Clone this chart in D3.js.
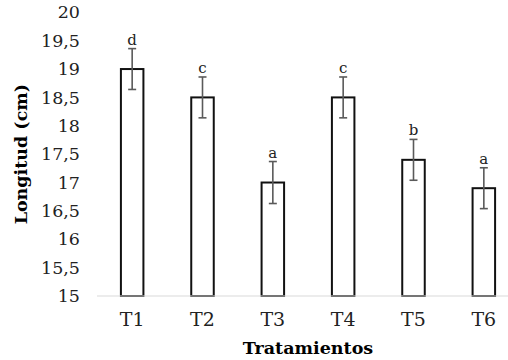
<!DOCTYPE html>
<html>
<head>
<meta charset="utf-8">
<script src="https://cdn.jsdelivr.net/npm/d3@7"></script>
<style>
  html, body { margin: 0; padding: 0; background: #fff; }
  svg { display: block; }
  .tick-label { font-family: "DejaVu Serif", serif; font-size: 17.5px; fill: #222; }
  .cat-label { font-family: "DejaVu Serif", serif; font-size: 19px; fill: #222; }
  .axis-title { font-family: "DejaVu Serif", serif; font-size: 17.5px; font-weight: bold; fill: #000; }
  .letter { font-family: "DejaVu Serif", serif; font-size: 15px; fill: #222; }
</style>
</head>
<body>
<div id="chart"></div>
<script>
// Longitud por tratamiento, con barras de error y letras de significancia.
const categories = ["T1", "T2", "T3", "T4", "T5", "T6"];
const means = [19.0, 18.5, 17.0, 18.5, 17.4, 16.9];
const errors = [0.36, 0.36, 0.37, 0.36, 0.36, 0.36];
const letters = ["d", "c", "a", "c", "b", "a"];
const yTicks = [15, 15.5, 16, 16.5, 17, 17.5, 18, 18.5, 19, 19.5, 20];

const width = 508, height = 360;

const svg = d3.select("#chart").append("svg")
  .attr("width", width).attr("height", height);

// Plot region; the right side runs past the frame, like the reference crop.
const x = d3.scaleBand(categories, [97, 519]).paddingInner(0.68).paddingOuter(0.34);
const y = d3.scaleLinear([15, 20], [296, 12.3]);
const fmt = (d) => String(d).replace(".", ",");

// Y tick labels (no axis line, no tick marks)
svg.append("g").selectAll("text")
  .data(yTicks).join("text")
  .attr("class", "tick-label")
  .attr("x", 80).attr("y", (d) => y(d)).attr("dy", "0.35em")
  .attr("text-anchor", "end")
  .text(fmt);

// Bars
svg.append("g").selectAll("rect")
  .data(categories).join("rect")
  .attr("x", (c) => x(c))
  .attr("y", (c, i) => y(means[i]))
  .attr("width", x.bandwidth())
  .attr("height", (c, i) => y(15) - y(means[i]))
  .attr("fill", "#fff").attr("stroke", "#111").attr("stroke-width", 2);

// Baseline
svg.append("line")
  .attr("x1", 97).attr("x2", width).attr("y1", y(15)).attr("y2", y(15))
  .attr("stroke", "#d9d9d9").attr("stroke-width", 1.2);

// Error bars
const eb = svg.append("g").attr("stroke", "#5a5a5a").attr("stroke-width", 1.6);
categories.forEach((c, i) => {
  const cx = x(c) + x.bandwidth() / 2;
  const top = y(means[i] + errors[i]), bot = y(means[i] - errors[i]);
  eb.append("line").attr("x1", cx).attr("x2", cx).attr("y1", top).attr("y2", bot);
  eb.append("line").attr("x1", cx - 4).attr("x2", cx + 4).attr("y1", top).attr("y2", top);
  eb.append("line").attr("x1", cx - 4).attr("x2", cx + 4).attr("y1", bot).attr("y2", bot);
});

// Significance letters
svg.append("g").selectAll("text")
  .data(categories).join("text")
  .attr("class", "letter")
  .attr("x", (c) => x(c) + x.bandwidth() / 2)
  .attr("y", (c, i) => y(means[i] + errors[i]) - 4)
  .attr("text-anchor", "middle")
  .text((c, i) => letters[i]);

// X tick labels
svg.append("g").selectAll("text")
  .data(categories).join("text")
  .attr("class", "cat-label")
  .attr("x", (c) => x(c) + x.bandwidth() / 2)
  .attr("y", 319).attr("dy", "0.35em")
  .attr("text-anchor", "middle")
  .text((c) => c);

// Axis titles
svg.append("text").attr("class", "axis-title")
  .attr("text-anchor", "middle")
  .attr("transform", `translate(21,${(y(15) + y(20)) / 2}) rotate(-90)`)
  .attr("dy", "0.35em")
  .text("Longitud (cm)");
svg.append("text").attr("class", "axis-title")
  .attr("text-anchor", "middle")
  .attr("x", 308).attr("y", 348).attr("dy", "0.35em")
  .text("Tratamientos");
</script>
</body>
</html>
